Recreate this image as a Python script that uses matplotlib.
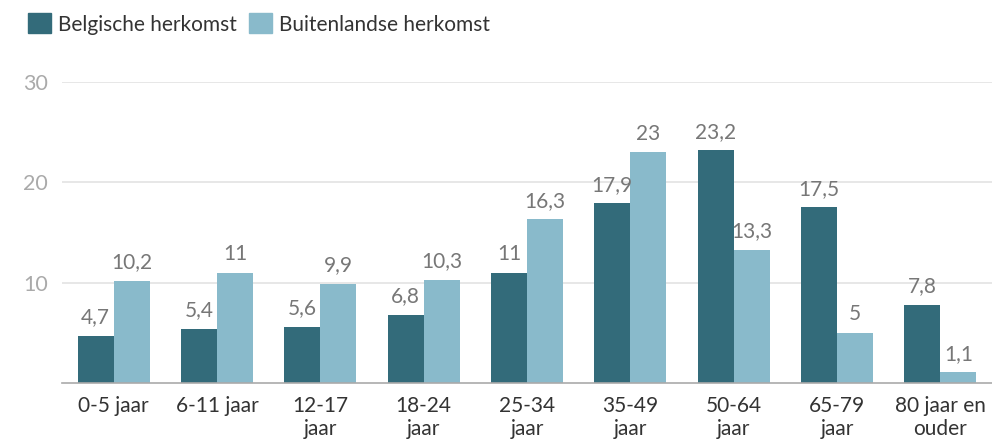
import matplotlib
matplotlib.use("Agg")
import matplotlib.pyplot as plt
import numpy as np
from matplotlib.patches import Patch

categories = ["0-5 jaar", "6-11 jaar", "12-17\njaar", "18-24\njaar", "25-34\njaar",
              "35-49\njaar", "50-64\njaar", "65-79\njaar", "80 jaar en\nouder"]
belgisch = [4.7, 5.4, 5.6, 6.8, 11, 17.9, 23.2, 17.5, 7.8]
buitenlands = [10.2, 11, 9.9, 10.3, 16.3, 23, 13.3, 5, 1.1]
series_names = ["Belgische herkomst", "Buitenlandse herkomst"]
yticks = [10, 20, 30]

c_dark = "#336b7a"
c_light = "#89bacb"

plt.rcParams['font.family'] = ['Lato', 'DejaVu Sans']

fig = plt.figure(figsize=(9.92, 4.43), dpi=100)
ax = fig.add_axes([62/992, 60/443, 1 - 62/992, (383-82)/443])

x = np.arange(len(categories))
w = 0.35
b1 = ax.bar(x - w/2, belgisch, w, color=c_dark, zorder=3)
b2 = ax.bar(x + w/2, buitenlands, w, color=c_light, zorder=3)

def fmt(v):
    s = f"{v:g}"
    return s.replace(".", ",")

for bars, vals in ((b1, belgisch), (b2, buitenlands)):
    for rect, v in zip(bars, vals):
        ax.annotate(fmt(v), (rect.get_x() + rect.get_width()/2, v),
                    xytext=(0, 6), textcoords="offset points",
                    ha="center", va="bottom", fontsize=15, color="#777777")

ax.set_xlim(-0.5, len(categories) - 0.5)
ax.set_ylim(0, 30)
ax.set_yticks(yticks)
ax.set_yticklabels([str(t) for t in yticks], fontsize=15.5, color="#aaaaaa")
ax.set_xticks(x)
ax.set_xticklabels(categories, fontsize=15, color="#333333", linespacing=1.2)
ax.tick_params(axis="both", length=0)
ax.tick_params(axis="x", pad=9)
ax.tick_params(axis="y", pad=10)
ax.grid(axis="y", color="#e3e3e3", linewidth=1.2, zorder=0)
for s in ["top", "right", "left"]:
    ax.spines[s].set_visible(False)
ax.spines["bottom"].set_color("#aaaaaa")
ax.spines["bottom"].set_linewidth(1.2)
ax.spines["bottom"].set_zorder(4)

handles = [Patch(color=c_dark), Patch(color=c_light)]
fig.legend(handles, series_names, loc="upper left", bbox_to_anchor=(0.0094, 1.012),
           ncol=2, frameon=False, fontsize=15, handlelength=1.1, handleheight=1.1,
           handletextpad=0.34, columnspacing=0.6, labelcolor="#333333")

fig.savefig("out.png", dpi=100)
